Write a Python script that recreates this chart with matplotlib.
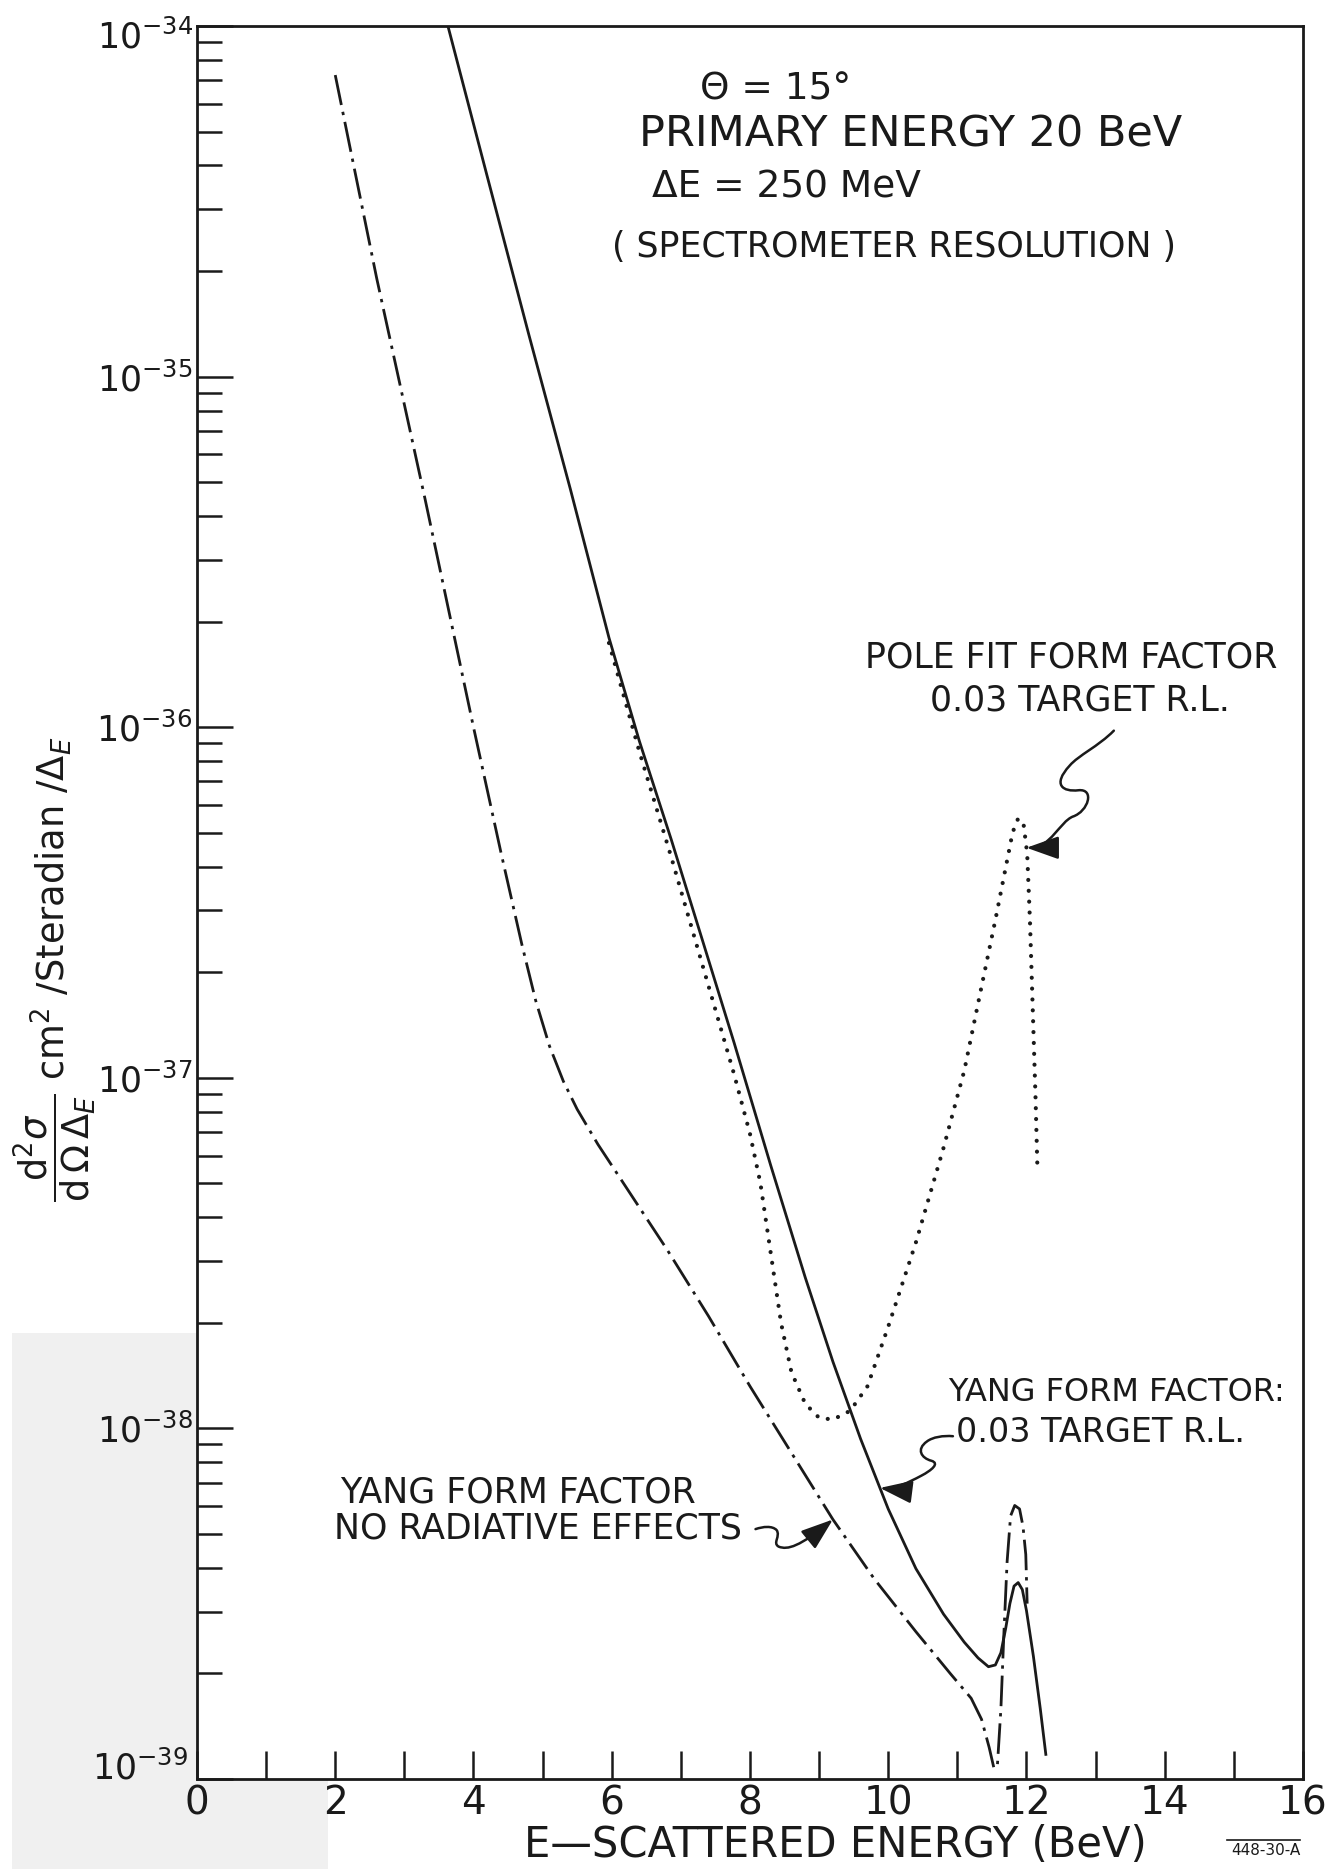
import numpy as np
import matplotlib
matplotlib.use("Agg")
import matplotlib.pyplot as plt
from matplotlib.path import Path
from matplotlib.patches import FancyArrowPatch, Rectangle
from matplotlib.lines import Line2D
from matplotlib.ticker import (MultipleLocator, FuncFormatter, FixedLocator,
                               LogLocator, NullFormatter)

plt.rcParams["font.family"] = ["DejaVu Sans"]
plt.rcParams["mathtext.fontset"] = "dejavusans"

# ── data: scattered energy in BeV, log10 of cross-section ──
# Yang form factor, 0.03 target R.L. (solid)
E_yang = [3.63, 4.2, 4.8, 5.4, 5.96, 6.4, 6.86, 7.3, 7.77, 8.3, 8.8, 9.2, 9.6, 10.0,
          10.4, 10.8, 11.1, 11.3, 11.45, 11.55, 11.63, 11.7, 11.76, 11.82, 11.88,
          11.94, 12.0, 12.1, 12.2, 12.28]
LOG_yang = [-34.0, -34.43, -34.88, -35.32, -35.745, -36.04, -36.32, -36.6, -36.9, -37.25,
            -37.57, -37.81, -38.03, -38.23, -38.4, -38.53, -38.61, -38.655, -38.68, -38.675,
            -38.64, -38.57, -38.5, -38.45, -38.44, -38.46, -38.52, -38.65, -38.8, -38.93]

# Pole fit form factor, 0.03 target R.L. (dotted)
E_pole = [5.96, 6.4, 6.86, 7.3, 7.77, 8.0, 8.15, 8.3, 8.45, 8.6, 8.8, 9.0, 9.2, 9.45,
          9.7, 10.0, 10.4, 10.8, 11.1, 11.35, 11.55, 11.7, 11.8, 11.88, 11.96, 12.01,
          12.05, 12.09, 12.13, 12.16]
LOG_pole = [-35.76, -36.07, -36.37, -36.67, -36.99, -37.16, -37.3, -37.5, -37.7, -37.84,
            -37.93, -37.97, -37.975, -37.95, -37.88, -37.71, -37.47, -37.2, -36.98, -36.74,
            -36.55, -36.4, -36.3, -36.26, -36.28, -36.36, -36.55, -36.8, -37.05, -37.27]

# Yang form factor, no radiative effects (dash-dot)
E_norad = [2.0, 2.6, 3.3, 4.0, 4.4, 4.7, 4.9, 5.1, 5.3, 5.5, 5.8, 6.2, 6.8, 7.4, 8.0,
           8.6, 9.2, 9.8, 10.4, 10.9, 11.2, 11.35, 11.46, 11.53, 11.58, 11.63, 11.67,
           11.72, 11.77, 11.83, 11.9, 11.95, 11.99, 12.01]
LOG_norad = [-34.14, -34.72, -35.35, -36.0, -36.36, -36.62, -36.78, -36.91, -37.01, -37.09,
             -37.19, -37.31, -37.49, -37.68, -37.88, -38.07, -38.26, -38.43, -38.58, -38.7,
             -38.77, -38.83, -38.91, -38.97, -38.96, -38.8, -38.6, -38.38, -38.25, -38.22,
             -38.23, -38.28, -38.36, -38.5]

DECADES = [-39, -38, -37, -36, -35, -34]
HEADER = ["Θ = 15°", "PRIMARY ENERGY 20 BeV", "ΔE = 250 MeV", "( SPECTROMETER RESOLUTION )"]

# ── figure ─────────────────────────────────────────────────────────────────────
fig = plt.figure(figsize=(13.32, 18.69), dpi=100)

# faint scan shading in lower-left corner
fig.patches.append(Rectangle((0.009, 0.0), 0.139, 0.287, transform=fig.transFigure,
                             facecolor="#f0f0f0", edgecolor="none", zorder=-5))
fig.patches.append(Rectangle((0.009, 0.0), 0.237, 0.048, transform=fig.transFigure,
                             facecolor="#f0f0f0", edgecolor="none", zorder=-5))

ax = fig.add_axes([0.1479, 0.0482, 0.8303, 0.9379])
ax.set_facecolor("white")

ink = "#1a1a1a"
ax.semilogy(E_yang, 10.0 ** np.array(LOG_yang), color=ink, lw=2.0)
ax.semilogy(E_pole, 10.0 ** np.array(LOG_pole), color=ink, lw=3.0,
            linestyle=(0, (0.01, 2.6)), dash_capstyle="round")
ax.semilogy(E_norad, 10.0 ** np.array(LOG_norad), color=ink, lw=2.0,
            linestyle=(0, (11, 2.5, 1.2, 2.5)))

ax.set_xlim(0, 16)
ax.set_ylim(10.0 ** DECADES[0], 10.0 ** DECADES[-1])

for sp in ax.spines.values():
    sp.set_linewidth(2.0)
    sp.set_color(ink)


def ylab(v, _):
    n = int(round(np.log10(v)))
    if n in (DECADES[0], DECADES[-1]):   # corner labels drawn by hand below
        return ""
    return r"$\mathdefault{10^{%d}}$" % n


ax.xaxis.set_major_locator(MultipleLocator(1))
ax.xaxis.set_major_formatter(FuncFormatter(
    lambda v, _: f"{int(round(v))}" if int(round(v)) % 2 == 0 else ""))
ax.yaxis.set_major_locator(FixedLocator([10.0 ** d for d in DECADES]))
ax.yaxis.set_major_formatter(FuncFormatter(ylab))
ax.yaxis.set_minor_locator(LogLocator(base=10, subs=np.arange(2, 10), numticks=20))
ax.yaxis.set_minor_formatter(NullFormatter())

ax.tick_params(which="both", direction="in", top=False, right=False, colors=ink)
ax.tick_params(axis="x", which="major", length=20, width=1.8, labelsize=28, pad=4)
ax.tick_params(axis="y", which="major", length=26, width=1.8, labelsize=25, pad=3)
ax.tick_params(axis="y", which="minor", length=18, width=1.8)

# corner decade labels, kept inside the page and clear of the "0"
ax.text(-0.0035, 1.004, r"$\mathdefault{10^{%d}}$" % DECADES[-1], transform=ax.transAxes,
        ha="right", va="top", fontsize=25, color=ink)
ax.text(-0.008, 0.006, r"$\mathdefault{10^{%d}}$" % DECADES[0], transform=ax.transAxes,
        ha="right", va="center", fontsize=25, color=ink)

ax.set_xlabel("E—SCATTERED ENERGY (BeV)", fontsize=30, color=ink)
ax.xaxis.set_label_coords(0.577, -0.0445)
ax.xaxis.label.set_va("baseline")

fig.text(0.041, 0.357,
         r"$\dfrac{\mathrm{d}^2\sigma}{\mathrm{d}\,\Omega\,\Delta_E}$ cm$^2$ /Steradian /$\Delta_E$",
         rotation=90, ha="center", va="bottom", fontsize=26.5, color=ink)

# header block
ax.text(0.523, 0.964, HEADER[0], transform=ax.transAxes, ha="center", va="center",
        fontsize=27, color=ink)
ax.text(0.400, 0.938, HEADER[1], transform=ax.transAxes, ha="left", va="center",
        fontsize=31, color=ink)
ax.text(0.411, 0.9076, HEADER[2], transform=ax.transAxes, ha="left", va="center",
        fontsize=27, color=ink)
ax.text(0.375, 0.874, HEADER[3], transform=ax.transAxes, ha="left", va="center",
        fontsize=25, color=ink)

# curve labels
ax.text(0.604, 0.6395, "POLE FIT FORM FACTOR", transform=ax.transAxes, ha="left",
        va="center", fontsize=25, color=ink)
ax.text(0.663, 0.615, "0.03 TARGET R.L.", transform=ax.transAxes, ha="left",
        va="center", fontsize=25, color=ink)
ax.text(0.679, 0.2202, "YANG FORM FACTOR:", transform=ax.transAxes, ha="left",
        va="center", fontsize=23, color=ink)
ax.text(0.686, 0.1974, "0.03 TARGET R.L.", transform=ax.transAxes, ha="left",
        va="center", fontsize=24, color=ink)
ax.text(0.129, 0.1632, "YANG FORM FACTOR", transform=ax.transAxes, ha="left",
        va="center", fontsize=25, color=ink)
ax.text(0.124, 0.1426, "NO RADIATIVE EFFECTS", transform=ax.transAxes, ha="left",
        va="center", fontsize=25, color=ink)


def to_axes(e, E, LOG):
    """point on a curve at energy e -> axes fraction"""
    disp = ax.transData.transform((e, 10.0 ** np.interp(e, E, LOG)))
    return tuple(ax.transAxes.inverted().transform(disp))


def squiggle(pts):
    """pts: start, then triplets of cubic Bezier points (axes fraction)."""
    codes = [Path.MOVETO] + [Path.CURVE4] * (len(pts) - 1)
    arr = FancyArrowPatch(path=Path(pts, codes), transform=ax.transAxes,
                          arrowstyle="-|>,head_length=0.9,head_width=0.32",
                          mutation_scale=22, lw=1.8, color=ink)
    ax.add_patch(arr)


# pole fit arrow
tip = to_axes(12.0, E_pole, LOG_pole)
squiggle([(0.829, 0.598),
          (0.815, 0.589), (0.797, 0.584), (0.789, 0.578),
          (0.773, 0.567), (0.783, 0.563), (0.797, 0.564),
          (0.812, 0.565), (0.806, 0.552), (0.792, 0.549),
          (0.780, 0.546), (0.772, tip[1]), tip])

# Yang 0.03 R.L. arrow
tip = to_axes(9.88, E_yang, LOG_yang)
squiggle([(0.6835, 0.1955),
          (0.675, 0.1960), (0.665, 0.1950), (0.660, 0.1925),
          (0.650, 0.1880), (0.655, 0.1830), (0.664, 0.1815),
          (0.672, 0.1800), (0.664, 0.1760), (0.655, 0.1730),
          (0.643, 0.1690), (0.630, 0.1650), tip])

# Yang no-radiative arrow
tip = to_axes(9.2, E_norad, LOG_norad)
squiggle([(0.5050, 0.1425),
          (0.512, 0.1440), (0.520, 0.1445), (0.524, 0.1420),
          (0.528, 0.1385), (0.520, 0.1345), (0.526, 0.1325),
          (0.534, 0.1305), (0.545, 0.1325), tip])

# drawing number, bottom right
fig.text(0.976, 0.006, "448-30-A", ha="right", va="bottom", fontsize=11, color=ink)
fig.add_artist(Line2D([0.921, 0.976], [0.0155, 0.0155], transform=fig.transFigure,
                      color=ink, lw=1.2))

fig.savefig("out.png", dpi=100, facecolor="white")
